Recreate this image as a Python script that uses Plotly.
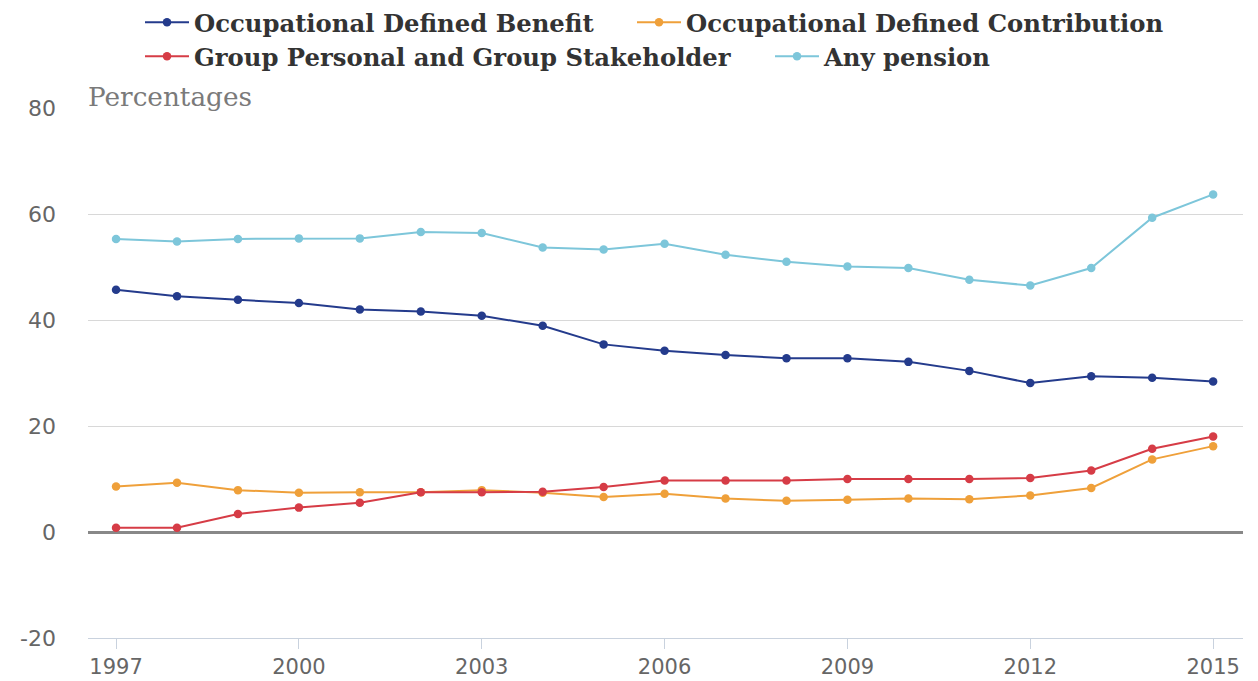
import plotly.graph_objects as go

years = list(range(1997, 2016))

occupational_db = [45.7, 44.5, 43.8, 43.2, 42.0, 41.6, 40.8, 38.9, 35.4, 34.2,
                   33.4, 32.8, 32.8, 32.1, 30.4, 28.1, 29.4, 29.1, 28.4]
occupational_dc = [8.6, 9.3, 7.9, 7.4, 7.5, 7.5, 7.9, 7.4, 6.6, 7.2,
                   6.3, 5.9, 6.1, 6.3, 6.2, 6.9, 8.3, 13.7, 16.2]
group_personal = [0.8, 0.8, 3.4, 4.6, 5.5, 7.5, 7.5, 7.6, 8.5, 9.7,
                  9.7, 9.7, 10.0, 10.0, 10.0, 10.2, 11.6, 15.7, 18.0]
any_pension = [55.3, 54.8, 55.3, 55.4, 55.4, 56.6, 56.4, 53.7, 53.3, 54.4,
               52.3, 51.0, 50.1, 49.8, 47.6, 46.5, 49.8, 59.3, 63.7]

x_ticks = [1997, 2000, 2003, 2006, 2009, 2012, 2015]
y_ticks = [-20, 0, 20, 40, 60, 80]
y_tick_labels = ["-20", "0", "20", "40", "60", "80"]

# (name, values, colour, legend id, legend x in px, legend y in px)
series = [
    ("Occupational Defined Benefit", occupational_db, "#243b8c", "legend", 140, 0),
    ("Occupational Defined Contribution", occupational_dc, "#efa03a", "legend2", 632, 0),
    ("Group Personal and Group Stakeholder", group_personal, "#d63c46", "legend3", 140, 34),
    ("Any pension", any_pension, "#7dc6da", "legend4", 770, 34),
]

legend_font = dict(family="DejaVu Serif", size=24.3, color="#333333", weight="bold")

fig = go.Figure()
legends = {}
for name, values, color, leg, lx, ly in series:
    fig.add_trace(go.Scatter(
        x=years, y=values, name=name, mode="lines+markers",
        line=dict(color=color, width=2),
        marker=dict(color=color, size=8.5),
        legend=leg,
    ))
    legends[leg] = dict(orientation="h", xref="container", yref="container",
                        x=lx / 1258, y=1 - ly / 681, xanchor="left", yanchor="top",
                        font=legend_font, itemwidth=44, bgcolor="rgba(0,0,0,0)")

axis_font = dict(family="DejaVu Sans", size=21, color="#666666")

fig.update_layout(
    width=1258, height=681,
    margin=dict(l=88, r=15, t=108, b=43, autoexpand=False),
    paper_bgcolor="white", plot_bgcolor="white",
    showlegend=True,
    **legends,
    xaxis=dict(range=[1996.54, 2015.49], tickvals=x_ticks, automargin=False,
               showgrid=False, zeroline=False,
               showline=True, linecolor="#c9d2de", linewidth=1,
               ticks="outside", ticklen=10, tickcolor="#c9d2de",
               tickfont=axis_font),
    yaxis=dict(range=[-20, 80], tickvals=y_ticks, ticktext=y_tick_labels,
               automargin=False,
               showgrid=True, gridcolor="#d8d8d8", gridwidth=1,
               zeroline=True, zerolinecolor="#888888", zerolinewidth=3,
               showline=False, ticks="", ticklabelstandoff=31,
               tickfont=dict(family="DejaVu Sans", size=22, color="#666666")),
    annotations=[dict(text="Percentages", xref="paper", yref="paper",
                      x=0, y=1, xanchor="left", yanchor="bottom",
                      showarrow=False, yshift=-6, xshift=-2,
                      font=dict(family="DejaVu Serif", size=26.3, color="#7a7a7a"))],
)

fig.write_html("out.html")
